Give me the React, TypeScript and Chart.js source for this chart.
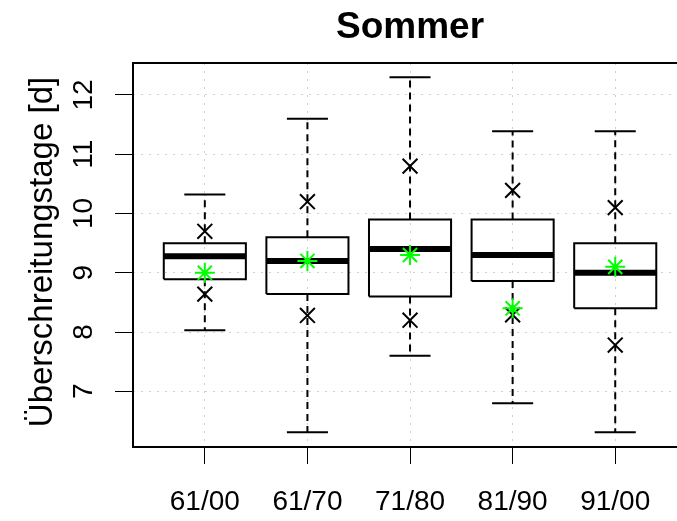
import { useEffect, useRef } from "react";
import { Chart, registerables } from "chart.js";

Chart.register(...registerables);

const categories = ["61/00", "61/70", "71/80", "81/90", "91/00"];
const positions = [1, 2, 3, 4, 5];
const whiskerLow = [8.03, 6.31, 7.6, 6.8, 6.31];
const q1 = [8.89, 8.64, 8.6, 8.86, 8.4];
const median = [9.28, 9.2, 9.4, 9.3, 9.0];
const q3 = [9.5, 9.6, 9.9, 9.9, 9.5];
const whiskerHigh = [10.32, 11.6, 12.3, 11.39, 11.39];
const p10 = [8.64, 8.28, 8.2, 8.29, 7.78];
const p90 = [9.7, 10.2, 10.8, 10.39, 10.1];
const means = [9.0, 9.2, 9.3, 8.4, 9.1];
const yTicks = [7, 8, 9, 10, 11, 12];

const title = "Sommer";
const yTitle = "Überschreitungstage [d]";

const FONT = "'Liberation Sans', Arial, sans-serif";

export default function App() {
  const ref = useRef<HTMLCanvasElement>(null);

  useEffect(() => {
    if (!ref.current) return;
    const lineDs = (data: { x: number; y: number }[], width: number, dash: number[] = []) => ({
      type: "scatter" as const,
      data,
      showLine: true,
      borderColor: "#000",
      borderWidth: width,
      borderDash: dash,
      borderCapStyle: "butt",
      borderJoinStyle: "miter",
      pointRadius: 0,
      pointHoverRadius: 0,
      fill: false,
      tension: 0,
      order: 2,
    });

    const datasets: any[] = [];
    positions.forEach((x, i) => {
      datasets.push(lineDs([{ x, y: q3[i] }, { x, y: whiskerHigh[i] }], 2, [7, 5]));
      datasets.push(lineDs([{ x, y: q1[i] }, { x, y: whiskerLow[i] }], 2, [7, 5]));
      datasets.push(lineDs([{ x: x - 0.2, y: whiskerHigh[i] }, { x: x + 0.2, y: whiskerHigh[i] }], 2));
      datasets.push(lineDs([{ x: x - 0.2, y: whiskerLow[i] }, { x: x + 0.2, y: whiskerLow[i] }], 2));
      datasets.push(
        lineDs(
          [
            { x: x - 0.4, y: q1[i] },
            { x: x + 0.4, y: q1[i] },
            { x: x + 0.4, y: q3[i] },
            { x: x - 0.4, y: q3[i] },
            { x: x - 0.4, y: q1[i] },
          ],
          2
        )
      );
      datasets.push(lineDs([{ x: x - 0.4, y: median[i] }, { x: x + 0.4, y: median[i] }], 6));
    });
    datasets.push({
      type: "scatter",
      data: positions.flatMap((x, i) => [
        { x, y: p10[i] },
        { x, y: p90[i] },
      ]),
      pointStyle: "crossRot",
      pointRadius: 10.5,
      pointHoverRadius: 10.5,
      borderColor: "#000",
      borderWidth: 2,
      showLine: false,
      order: 1,
    });
    datasets.push({
      type: "scatter",
      data: positions.map((x, i) => ({ x, y: means[i] })),
      pointStyle: "star",
      pointRadius: 10,
      pointHoverRadius: 10,
      borderColor: "#00ff00",
      borderWidth: 2,
      showLine: false,
      order: 0,
    });

    const framePlugin = {
      id: "frame",
      beforeDatasetsDraw(chart: any) {
        const { ctx, chartArea: a } = chart;
        ctx.save();
        ctx.strokeStyle = "#000";
        ctx.lineWidth = 2;
        ctx.beginPath();
        ctx.moveTo(a.right + 2, a.top);
        ctx.lineTo(a.left, a.top);
        ctx.lineTo(a.left, a.bottom);
        ctx.lineTo(a.right + 2, a.bottom);
        ctx.stroke();
        ctx.restore();
      },
    };

    const textPlugin = {
      id: "texts",
      afterDraw(chart: any) {
        const { ctx, chartArea: a } = chart;
        const xs = chart.scales.x;
        const ys = chart.scales.y;
        ctx.save();
        ctx.fillStyle = "#000";
        ctx.font = `28px ${FONT}`;
        ctx.textAlign = "center";
        ctx.textBaseline = "alphabetic";
        positions.forEach((p, i) => {
          ctx.fillText(categories[i], xs.getPixelForValue(p), 510);
        });
        yTicks.forEach((v) => {
          ctx.save();
          ctx.translate(92, ys.getPixelForValue(v));
          ctx.rotate(-Math.PI / 2);
          ctx.textAlign = "center";
          ctx.fillText(String(v), 0, 0);
          ctx.restore();
        });
        ctx.save();
        ctx.font = `33px ${FONT}`;
        ctx.translate(52, (a.top + a.bottom) / 2 - 3);
        ctx.rotate(-Math.PI / 2);
        ctx.textAlign = "center";
        ctx.fillText(yTitle, 0, 0);
        ctx.restore();
        ctx.font = `bold 37px ${FONT}`;
        ctx.textAlign = "center";
        ctx.fillText(title, xs.getPixelForValue(3), 38);
        ctx.restore();
      },
    };

    const gridCommon = {
      color: "#cfcfcf",
      lineWidth: 1,
      drawTicks: true,
      tickColor: "#000",
      tickWidth: 1,
      tickBorderDash: [],
    };

    const chart = new Chart(ref.current, {
      type: "scatter",
      data: { datasets },
      options: {
        animation: false,
        responsive: false,
        events: [],
        layout: { autoPadding: false, padding: { left: 115, top: 63, right: 0, bottom: 57 } },
        plugins: { legend: { display: false }, tooltip: { enabled: false }, title: { display: false } },
        scales: {
          x: {
            type: "linear",
            min: 0.3,
            max: 5.602,
            afterBuildTicks: (s: any) => {
              s.ticks = positions.map((v) => ({ value: v }));
            },
            ticks: { display: false },
            grid: { ...gridCommon, tickLength: 17 },
            border: { display: false, dash: [2, 6] },
          },
          y: {
            type: "linear",
            min: 6.06,
            max: 12.54,
            afterBuildTicks: (s: any) => {
              s.ticks = yTicks.map((v) => ({ value: v }));
            },
            ticks: { display: false },
            grid: { ...gridCommon, tickLength: 18 },
            border: { display: false, dash: [2, 6] },
          },
        },
      },
      plugins: [framePlugin, textPlugin],
    } as any);

    return () => chart.destroy();
  }, []);

  return (
    <div style={{ position: "absolute", left: 0, top: 0, width: 677, height: 521, background: "#fff" }}>
      <canvas ref={ref} width={677} height={521} style={{ display: "block" }} />
    </div>
  );
}
